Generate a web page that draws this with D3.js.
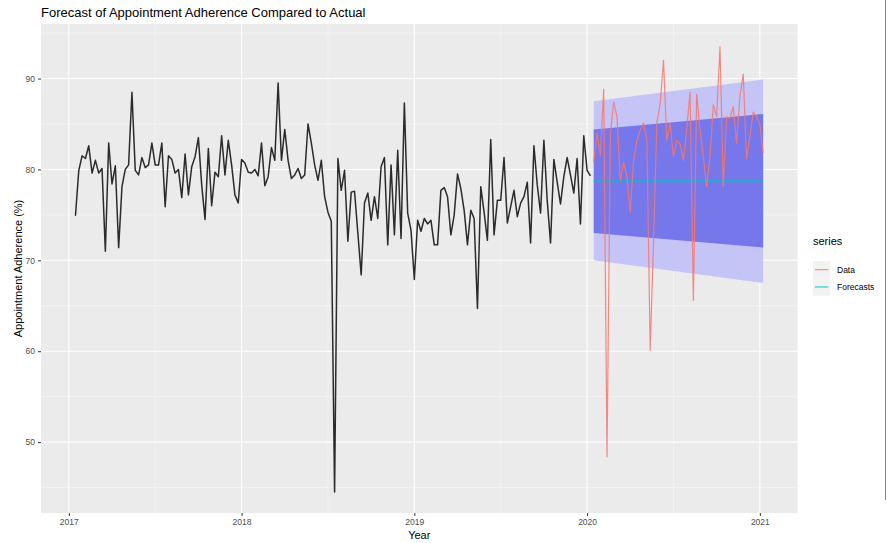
<!DOCTYPE html>
<html>
<head>
<meta charset="utf-8">
<script src="https://cdn.jsdelivr.net/npm/d3@7"></script>
<style>
  body { margin: 0; background: #fff; }
  text { font-family: "Liberation Sans", Arial, sans-serif; }
</style>
</head>
<body>
<div id="chart"></div>
<script>
// weekly series, frequency 52, starting 2017 week 3
var startYear = 2017;
var startWeek = 3;

// training data (black)
var actualValues = [
  74.9, 79.9, 81.5, 81.2, 82.6, 79.6, 81.0, 79.6, 80.1, 71.0,
  82.9, 78.4, 80.4, 71.4, 78.1, 80.0, 80.5, 88.5, 79.9, 79.4,
  81.3, 80.2, 80.5, 82.9, 80.5, 80.5, 82.9, 75.9, 81.5, 81.1,
  79.6, 80.0, 76.9, 81.7, 77.2, 80.3, 81.4, 83.5, 78.3, 74.5,
  82.3, 76.0, 79.7, 79.2, 83.7, 79.4, 83.2, 80.5, 77.2, 76.3,
  81.1, 80.7, 79.7, 79.6, 80.0, 79.3, 82.9, 78.2, 79.2, 82.4,
  81.0, 89.5, 81.0, 84.4, 81.0, 79.0, 79.4, 80.1, 79.0, 79.4,
  85.0, 82.9, 80.5, 78.8, 81.0, 77.0, 75.3, 74.3, 44.5, 81.2,
  77.7, 79.9, 72.1, 77.5, 77.6, 73.0, 68.4, 76.3, 77.4, 74.4,
  77.0, 74.6, 80.3, 81.3, 71.7, 80.5, 72.8, 82.1, 72.4, 87.3,
  75.2, 73.3, 67.9, 74.4, 73.2, 74.6, 74.0, 74.4, 71.7, 71.7,
  77.7, 78.0, 77.0, 72.8, 75.0, 79.5, 77.9, 75.5, 71.7, 75.5,
  74.6, 64.7, 78.1, 75.3, 72.2, 83.3, 72.8, 76.6, 76.6, 81.3,
  74.1, 75.9, 77.7, 74.8, 76.3, 77.0, 78.6, 71.9, 82.6, 78.3,
  75.2, 83.2, 76.6, 71.9, 81.1, 78.6, 76.2, 79.2, 81.3, 79.4,
  77.4, 81.2, 74.0, 83.7, 79.9, 79.3
];

// test data (series "Data")
var testValues = [
  80.8, 84.0, 81.6, 88.8, 48.4, 83.8, 87.4, 85.8, 78.8, 80.8,
  79.2, 75.3, 81.0, 83.2, 84.3, 85.1, 83.2, 60.1, 72.0, 85.1,
  87.2, 92.0, 83.2, 85.1, 81.4, 83.2, 82.8, 81.0, 84.5, 88.5,
  65.6, 88.3, 84.3, 81.4, 78.1, 81.4, 87.1, 85.8, 93.5, 78.1,
  85.8, 85.6, 86.9, 82.9, 88.0, 90.5, 81.2, 83.6, 86.3, 85.8,
  85.0, 81.8
];

// forecast (series "Forecasts"), first and last horizon
var fcWeeks = [0, 51];
var fcMean = [78.7, 78.7];
var fcLo80 = [73.0, 71.4];
var fcHi80 = [84.4, 86.1];
var fcLo95 = [70.0, 67.5];
var fcHi95 = [87.5, 89.9];

var yearTicks = [2017, 2018, 2019, 2020, 2021];
var yTicks = [50, 60, 70, 80, 90];

var svgWidth = 890;
var svgHeight = 543;

var panel = { left: 41, right: 797.5, top: 24, bottom: 513 };

var svg = d3
  .select("#chart")
  .append("svg")
  .attr("width", svgWidth)
  .attr("height", svgHeight);

// time of observation i (weeks after the start)
function timeOf(i) {
  return startYear + (startWeek - 1 + i) / 52;
}

var nTrain = actualValues.length;

var x = d3.scaleLinear().domain([2016.839, 2021.218]).range([panel.left, panel.right]);
var y = d3.scaleLinear().domain([42.2, 96.0]).range([panel.bottom, panel.top]);

// panel background
svg
  .append("rect")
  .attr("x", panel.left)
  .attr("y", panel.top)
  .attr("width", panel.right - panel.left)
  .attr("height", panel.bottom - panel.top)
  .attr("fill", "#ebebeb");

// grid lines
var minorX = d3.range(2016.5, 2021.6, 1).filter(d => x(d) > panel.left && x(d) < panel.right);
var minorY = d3.range(45, 96, 10);

var grid = svg.append("g");
grid
  .selectAll(".minor-x")
  .data(minorX)
  .enter()
  .append("line")
  .attr("x1", d => x(d))
  .attr("x2", d => x(d))
  .attr("y1", panel.top)
  .attr("y2", panel.bottom)
  .attr("stroke", "#f6f6f6")
  .attr("stroke-width", 0.6);
grid
  .selectAll(".minor-y")
  .data(minorY)
  .enter()
  .append("line")
  .attr("x1", panel.left)
  .attr("x2", panel.right)
  .attr("y1", d => y(d))
  .attr("y2", d => y(d))
  .attr("stroke", "#f6f6f6")
  .attr("stroke-width", 0.6);
grid
  .selectAll(".major-x")
  .data(yearTicks)
  .enter()
  .append("line")
  .attr("x1", d => x(d))
  .attr("x2", d => x(d))
  .attr("y1", panel.top)
  .attr("y2", panel.bottom)
  .attr("stroke", "#fff")
  .attr("stroke-width", 1.1);
grid
  .selectAll(".major-y")
  .data(yTicks)
  .enter()
  .append("line")
  .attr("x1", panel.left)
  .attr("x2", panel.right)
  .attr("y1", d => y(d))
  .attr("y2", d => y(d))
  .attr("stroke", "#fff")
  .attr("stroke-width", 1.1);

// prediction intervals
var fcData = fcWeeks.map((w, i) => ({
  t: timeOf(nTrain + w),
  mean: fcMean[i],
  lo80: fcLo80[i],
  hi80: fcHi80[i],
  lo95: fcLo95[i],
  hi95: fcHi95[i]
}));

svg
  .append("path")
  .datum(fcData)
  .attr("fill", "#c4c4f6")
  .attr("d", d3.area().x(d => x(d.t)).y0(d => y(d.lo95)).y1(d => y(d.hi95)));

svg
  .append("path")
  .datum(fcData)
  .attr("fill", "#7777ec")
  .attr("d", d3.area().x(d => x(d.t)).y0(d => y(d.lo80)).y1(d => y(d.hi80)));

svg
  .append("path")
  .datum(fcData)
  .attr("fill", "none")
  .attr("stroke", "#00bfc4")
  .attr("stroke-opacity", 0.8)
  .attr("stroke-width", 1.8)
  .attr("d", d3.line().x(d => x(d.t)).y(d => y(d.mean)));

// training series
var line = d3
  .line()
  .x(d => x(d.t))
  .y(d => y(d.v));

svg
  .append("path")
  .datum(actualValues.map((v, i) => ({ t: timeOf(i), v: v })))
  .attr("fill", "none")
  .attr("stroke", "#2b2b2b")
  .attr("stroke-width", 1.5)
  .attr("stroke-linejoin", "round")
  .attr("d", line);

// test series
svg
  .append("path")
  .datum(testValues.map((v, i) => ({ t: timeOf(nTrain + i), v: v })))
  .attr("fill", "none")
  .attr("stroke", "#f8766d")
  .attr("stroke-opacity", 0.85)
  .attr("stroke-width", 1.2)
  .attr("stroke-linejoin", "round")
  .attr("d", line);

// axes
var xAxis = svg
  .append("g")
  .attr("transform", `translate(0, ${panel.bottom})`)
  .call(d3.axisBottom(x).tickValues(yearTicks).tickFormat(d3.format("d")).tickSize(3).tickPadding(3));

var yAxis = svg
  .append("g")
  .attr("transform", `translate(${panel.left}, 0)`)
  .call(d3.axisLeft(y).tickValues(yTicks).tickSize(3).tickPadding(3));

[xAxis, yAxis].forEach(function(a) {
  a.select(".domain").remove();
  a.selectAll(".tick line").attr("stroke", "#333");
  a.selectAll(".tick text")
    .attr("fill", "#4d4d4d")
    .style("font-size", "8.5px")
    .style("font-family", "Liberation Sans, Arial, sans-serif");
});

// titles
svg
  .append("text")
  .attr("x", panel.left)
  .attr("y", 17)
  .attr("fill", "#000")
  .style("font-size", "13px")
  .text("Forecast of Appointment Adherence Compared to Actual");

svg
  .append("text")
  .attr("x", (panel.left + panel.right) / 2)
  .attr("y", 539)
  .attr("text-anchor", "middle")
  .attr("fill", "#000")
  .style("font-size", "11px")
  .text("Year");

svg
  .append("text")
  .attr("transform", `translate(22, ${(panel.top + panel.bottom) / 2}) rotate(-90)`)
  .attr("text-anchor", "middle")
  .attr("fill", "#000")
  .style("font-size", "11px")
  .text("Appointment Adherence (%)");

// legend
var legendNames = ["Data", "Forecasts"];
var legendColors = ["#f8766d", "#00bfc4"];

var legend = svg.append("g").attr("transform", "translate(813, 0)");

legend
  .append("text")
  .attr("x", 0)
  .attr("y", 245)
  .attr("fill", "#000")
  .style("font-size", "11px")
  .text("series");

var rows = legend
  .selectAll(".row")
  .data(legendNames)
  .enter()
  .append("g")
  .attr("transform", (d, i) => `translate(0, ${261 + i * 17.3})`);

rows
  .append("rect")
  .attr("width", 17.3)
  .attr("height", 17.3)
  .attr("fill", "#f2f2f2");

rows
  .append("line")
  .attr("x1", 2)
  .attr("x2", 15.3)
  .attr("y1", 8.65)
  .attr("y2", 8.65)
  .attr("stroke", (d, i) => legendColors[i])
  .attr("stroke-opacity", 0.8)
  .attr("stroke-width", 1.2);

rows
  .append("text")
  .attr("x", 24)
  .attr("y", 11.7)
  .attr("fill", "#000")
  .style("font-size", "8.5px")
  .text(d => d);

// screenshot border on the right
svg
  .append("line")
  .attr("x1", 885.5)
  .attr("x2", 885.5)
  .attr("y1", 0)
  .attr("y2", 500)
  .attr("stroke", "#888")
  .attr("stroke-width", 1);
</script>
</body>
</html>
